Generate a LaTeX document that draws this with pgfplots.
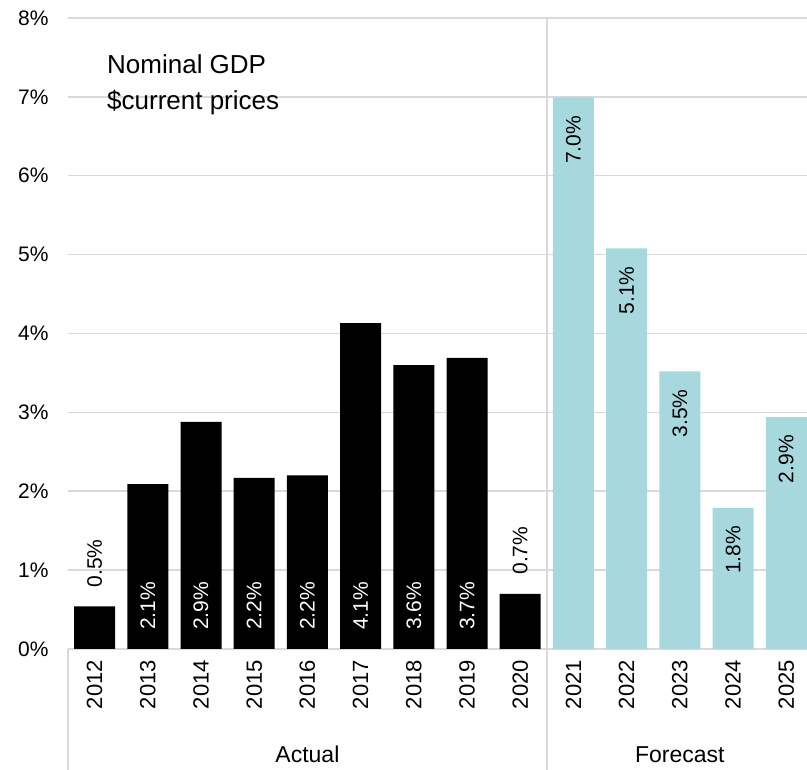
\documentclass[border=0pt]{standalone}
\usepackage{pgfplots}
\pgfplotsset{compat=1.18}
\usepackage{pgfplotstable}
\usepackage{fontspec}
\setmainfont{Liberation Sans}
\definecolor{fc}{HTML}{A7D8DE}
\definecolor{gr}{HTML}{D9D9D9}

\pgfplotstableread{
x y
0 0.54
8 0.70
}\actualtop
\pgfplotstableread{
x y
1 2.09
2 2.88
3 2.17
4 2.20
5 4.13
6 3.60
7 3.69
}\actualbase
\pgfplotstableread{
x y
9 6.99
10 5.08
11 3.52
12 1.79
13 2.94
}\forecast

\begin{document}
\begin{tikzpicture}
\useasboundingbox (-68pt,-121pt) rectangle (739pt,649pt);
\begin{axis}[
  at={(0,0)}, anchor=south west,
  scale only axis, width=739pt, height=631pt,
  xmin=-0.5, xmax=13.39, ymin=0, ymax=8,
  axis line style={draw=none},
  major tick style={draw=none},
  ymajorgrids, grid style={gr, line width=1.5pt},
  ytick={0,1,2,3,4,5,6,7,8},
  yticklabel={\pgfmathprintnumber{\tick}\%},
  xtick={0,1,2,3,4,5,6,7,8,9,10,11,12,13},
  xticklabels={2012,2013,2014,2015,2016,2017,2018,2019,2020,2021,2022,2023,2024,2025},
  /pgf/number format/assume math mode=true,
  yticklabel style={anchor=east, inner sep=0pt, xshift=-19.3pt, font=\fontsize{21}{24}\selectfont},
  xticklabel style={yshift=-11pt, rotate=90, anchor=east, inner sep=0pt, font=\fontsize{22}{24}\selectfont},
  no markers,
  clip=false,
]
\addplot[ybar, bar width=41pt, fill=black, draw=none] table[x=x,y=y]{\actualtop};
\addplot[ybar, bar width=41pt, fill=black, draw=none] table[x=x,y=y]{\actualbase};
\addplot[ybar, bar width=41pt, fill=fc, draw=none] table[x=x,y=y]{\forecast};

% labels above small bars
\addplot[draw=none, point meta=y,
  nodes near coords={\pgfmathprintnumber[fixed,fixed zerofill,precision=1]{\pgfplotspointmeta}\%},
  nodes near coords style={yshift=19pt, rotate=90, anchor=west, inner sep=0pt, text=black, font=\fontsize{21}{24}\selectfont}]
  table[x=x,y=y]{\actualtop};
% labels at base of black bars
\addplot[draw=none, point meta=explicit,
  nodes near coords={\pgfmathprintnumber[fixed,fixed zerofill,precision=1]{\pgfplotspointmeta}\%},
  nodes near coords style={yshift=19pt, rotate=90, anchor=west, inner sep=0pt, text=white, font=\fontsize{21}{24}\selectfont}]
  table[x=x, y expr=0, meta=y]{\actualbase};
% labels inside top of forecast bars
\addplot[draw=none, point meta=y,
  nodes near coords={\pgfmathprintnumber[fixed,fixed zerofill,precision=1]{\pgfplotspointmeta}\%},
  nodes near coords style={yshift=-18pt, rotate=90, anchor=east, inner sep=0pt, text=black, font=\fontsize{21}{24}\selectfont}]
  table[x=x,y=y]{\forecast};

\draw[gr, line width=1.5pt] (axis cs:8.5,8) -- (axis cs:8.5,-1.56);
\draw[gr, line width=1.5pt] (axis cs:-0.5,0) -- (axis cs:-0.5,-1.56);
\node[anchor=base, font=\fontsize{23}{26}\selectfont] at (axis cs:4,-1.445) {Actual};
\node[anchor=base, font=\fontsize{23}{26}\selectfont] at (axis cs:11,-1.445) {Forecast};
\node[anchor=base west, inner sep=0pt, font=\fontsize{26}{30}\selectfont] at (axis cs:0.233,7.290) {Nominal GDP};
\node[anchor=base west, inner sep=0pt, font=\fontsize{26}{30}\selectfont] at (axis cs:0.233,6.834) {\$current prices};
\end{axis}
\end{tikzpicture}
\end{document}
